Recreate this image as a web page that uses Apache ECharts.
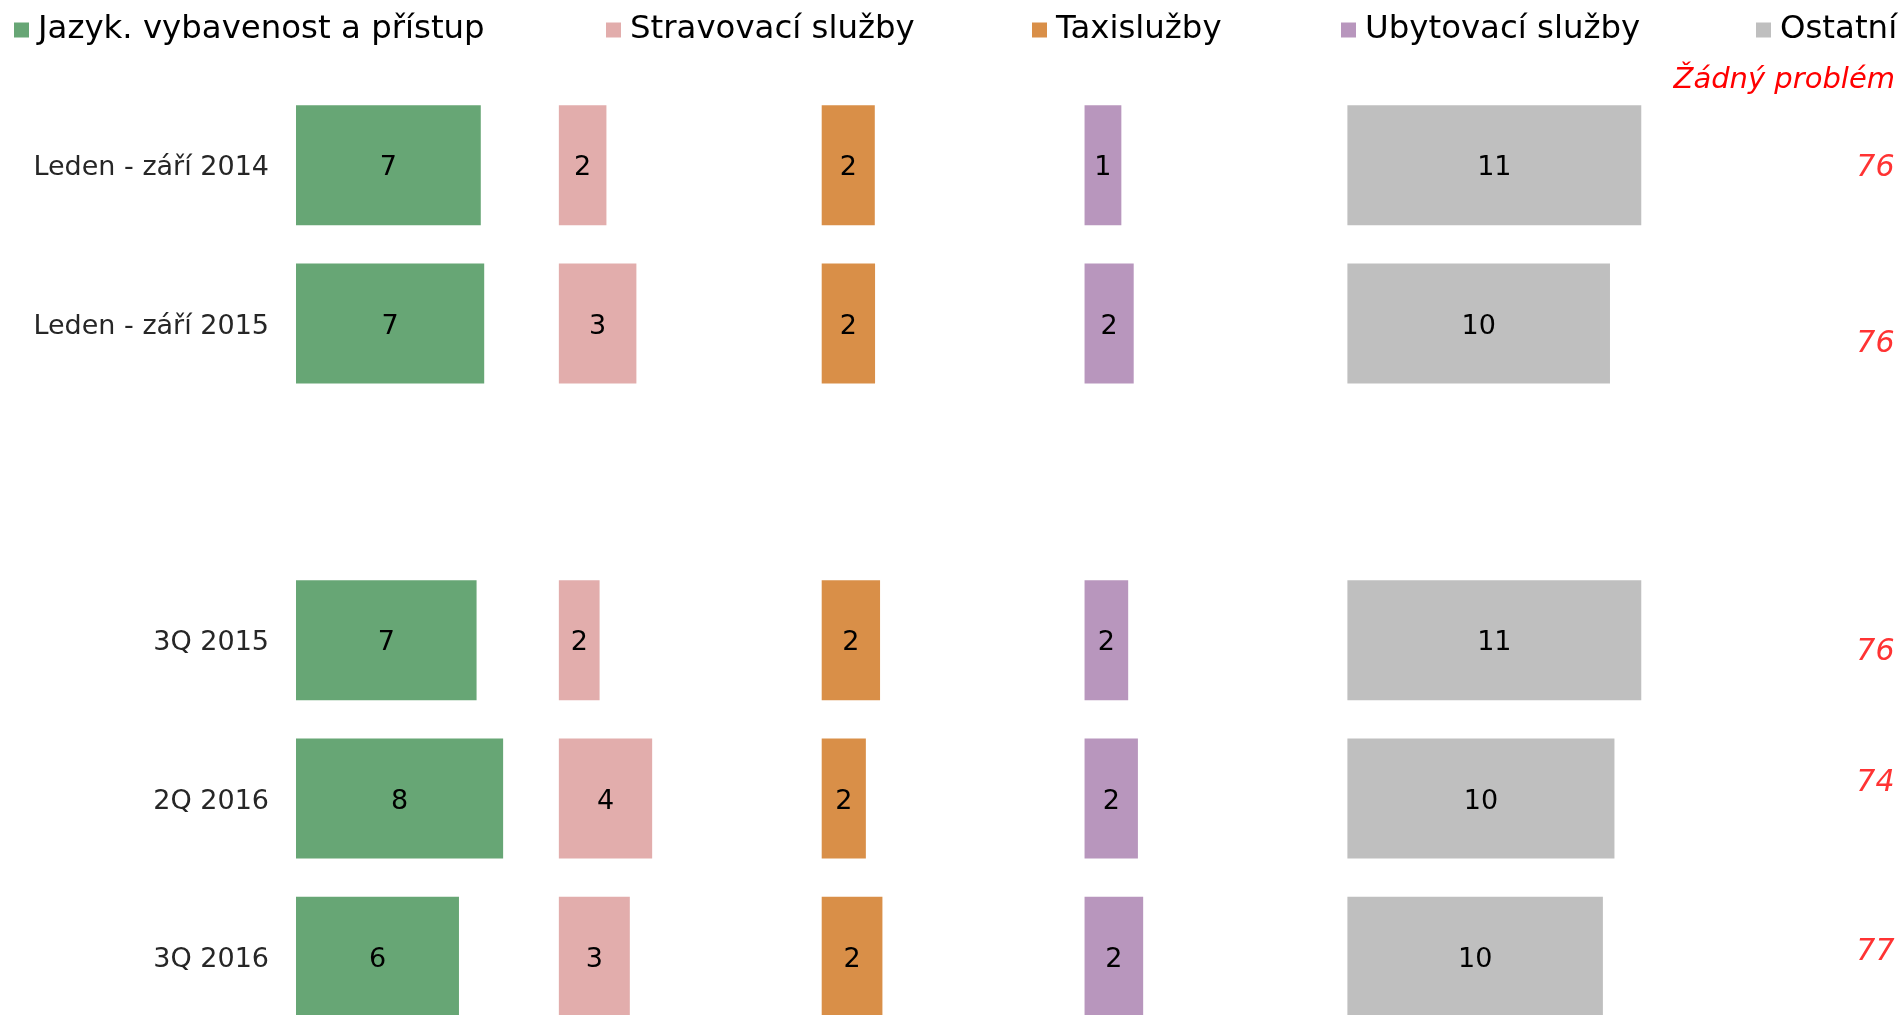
<!DOCTYPE html>
<html>
<head>
<meta charset="utf-8">
<title>Problémy turistů</title>
<script src="https://cdn.jsdelivr.net/npm/echarts@6/dist/echarts.min.js"></script>
<style>
  html, body { margin: 0; padding: 0; background: #fff; }
  #main { width: 1901px; height: 1015px; }
</style>
</head>
<body>
<div id="main"></div>
<script>
// data (prázdný řádek = mezera mezi bloky)
var categories = ['Leden - září 2014', 'Leden - září 2015', '', '3Q 2015', '2Q 2016', '3Q 2016']
var seriesNames = ['Jazyk. vybavenost a přístup', 'Stravovací služby', 'Taxislužby', 'Ubytovací služby', 'Ostatní']
var jazyk = [7.03, 7.16, null, 6.87, 7.88, 6.2]
var stravovani = [1.81, 2.95, null, 1.55, 3.55, 2.7]
var taxi = [2.02, 2.03, null, 2.22, 1.68, 2.31]
var ubytovani = [1.4, 1.87, null, 1.66, 2.03, 2.23]
var ostatni = [11.18, 9.99, null, 11.18, 10.16, 9.72]
var zadnyProblem = [76, 76, null, 76, 74, 77]
var zadnyProblemName = 'Žádný problém'

// posun popisků vpravo (jen vzhled)
var noProblemShift = [3, 21, 0, 12, -15, -5]

var colors = ['#67a675', '#e2adac', '#d98f48', '#b896bd', '#bfbfbf']
var font = 'DejaVu Sans'

var myChart = echarts.init(document.getElementById('main'))

var values = [jazyk, stravovani, taxi, ubytovani, ostatni]
var unit = 26.285 // px na jednotku
var panelLeft = 296
var gridTop = 86
var gridHeight = 950

var grids = []
var xAxes = []
var yAxes = []
var series = []
var legends = []
var legendLeft = [14, 606, 1032, 1341, 1756]

values.forEach(function(arr, i) {
  var max = i === 4 ? 12 : 10
  grids.push({
    left: panelLeft + i * 10 * unit,
    top: gridTop,
    width: max * unit,
    height: gridHeight,
    outerBoundsMode: 'none'
  })
  xAxes.push({
    type: 'value',
    gridIndex: i,
    min: 0,
    max: max,
    show: false
  })
  yAxes.push({
    type: 'category',
    gridIndex: i,
    inverse: true,
    data: categories,
    show: i === 0,
    axisLine: { show: false },
    axisTick: { show: false },
    axisLabel: {
      margin: 27,
      formatter: '{c|{value}}',
      rich: {
        c: {
          fontSize: 27,
          fontFamily: font,
          color: '#262626',
          padding: [6, 0, 0, 0]
        }
      }
    }
  })
  series.push({
    name: seriesNames[i],
    type: 'bar',
    xAxisIndex: i,
    yAxisIndex: i,
    barWidth: 120,
    data: arr,
    itemStyle: { color: colors[i] },
    label: {
      show: true,
      position: 'inside',
      offset: [0, 3],
      fontSize: 27,
      fontFamily: font,
      color: '#000',
      formatter: function(p) {
        return Math.round(p.value)
      }
    }
  })
  legends.push({
    data: [seriesNames[i]],
    left: legendLeft[i],
    top: 14,
    padding: 0,
    icon: 'rect',
    itemWidth: 15,
    itemHeight: 15,
    textStyle: {
      fontSize: 32.4,
      fontFamily: font,
      color: '#000',
      padding: [0, 0, 0, 4]
    },
    selectedMode: false
  })
})

// sloupec "Žádný problém"
grids.push({
  left: 1795,
  top: gridTop,
  width: 100,
  height: gridHeight,
  outerBoundsMode: 'none'
})
xAxes.push({ type: 'value', gridIndex: 5, min: 0, max: 1, show: false })
yAxes.push({ type: 'category', gridIndex: 5, inverse: true, data: categories, show: false })

var noProblemData = []
zadnyProblem.forEach(function(v, i) {
  if (v == null) return
  noProblemData.push({
    value: [1, i, v],
    label: { offset: [0, noProblemShift[i]] }
  })
})

series.push({
  name: zadnyProblemName,
  type: 'scatter',
  xAxisIndex: 5,
  yAxisIndex: 5,
  symbolSize: 1,
  itemStyle: { color: 'rgba(0,0,0,0)' },
  data: noProblemData,
  label: {
    show: true,
    position: 'left',
    distance: 0,
    fontSize: 30,
    fontStyle: 'italic',
    fontFamily: font,
    color: '#ff0000',
    formatter: function(p) {
      return p.value[2]
    }
  }
})

var option = {
  backgroundColor: '#fff',
  animation: false,
  title: {
    text: zadnyProblemName,
    right: 6,
    top: 66,
    padding: 0,
    textStyle: {
      fontSize: 29,
      fontStyle: 'italic',
      fontWeight: 'normal',
      fontFamily: font,
      color: '#ff0000'
    }
  },
  legend: legends,
  grid: grids,
  xAxis: xAxes,
  yAxis: yAxes,
  series: series
}

myChart.setOption(option)
</script>
</body>
</html>
